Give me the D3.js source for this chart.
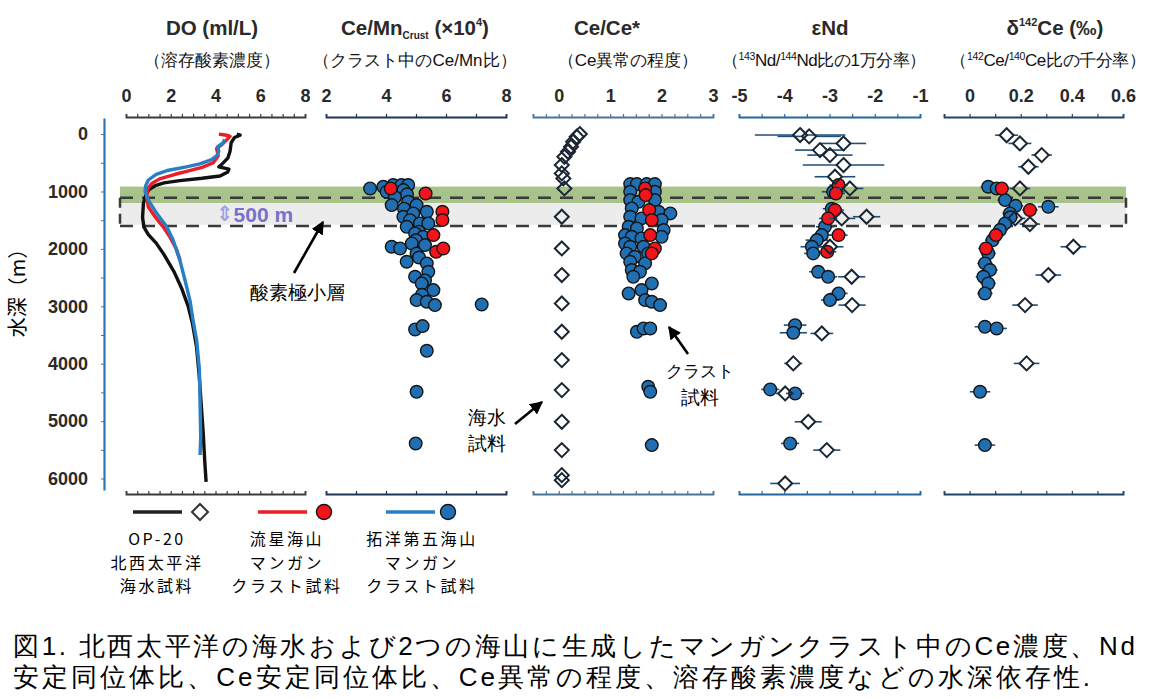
<!DOCTYPE html>
<html>
<head>
<meta charset="utf-8">
<script src="https://cdnjs.cloudflare.com/ajax/libs/d3/7.8.5/d3.min.js"></script>
<style>
body{margin:0;background:#fff}
svg{display:block}
text{font-family:"Liberation Sans",Arial,sans-serif}
.jp{font-family:"Noto Sans CJK JP",sans-serif}
</style>
</head>
<body>
<div id="chart"></div>
<script>
// data: [depth m, value] or [depth m, value, error]

// dissolved oxygen profiles (ml/L)
const doOP20 = [[0,4.95],[20,5.1],[60,4.85],[150,4.7],[300,4.65],[420,4.55],[520,4.3],[570,4.15],[610,4.6],[660,4.55],[730,4.2],[770,3.4],[810,2.4],[850,1.7],[900,1.3],[960,1.05],[1050,0.9],[1200,0.78],[1450,0.74],[1620,0.8],[1750,1.0],[1900,1.35],[2100,1.7],[2400,2.15],[2700,2.5],[3000,2.78],[3300,2.97],[3700,3.15],[4200,3.27],[4700,3.36],[5200,3.45],[5700,3.52],[6057,3.58]]
const doRyusei = [[0,4.15],[20,4.5],[40,4.65],[100,4.5],[180,4.3],[250,4.05],[380,4.12],[500,3.9],[580,3.4],[640,2.8],[700,2.2],[780,1.5],[860,1.15],[950,0.98],[1100,0.92],[1270,1.0],[1440,1.3],[1620,1.67],[1800,1.97],[2000,2.25],[2200,2.42]]
const doTakuyo = [[90,4.4],[150,4.35],[220,4.1],[300,4.15],[380,4.05],[450,3.8],[520,3.3],[570,2.7],[630,1.9],[700,1.35],[800,1.0],[900,0.88],[1000,0.85],[1150,1.0],[1380,1.37],[1615,1.82],[1850,2.11],[2200,2.41],[2550,2.64],[2900,2.86],[3250,3.0],[3600,3.16],[4100,3.28],[4700,3.31],[5270,3.34],[5590,3.31]]

// Ce/Mn in crust (x10^4)
const ceMnTakuyo = [[947,3.47],[918,3.91],[888,4.24],[888,4.52],[888,4.74],[1005,4.02],[976,4.58],[1050,4.7],[1100,4.3],[1237,4.19],[1179,4.74],[1237,5.02],[1300,4.6],[1440,4.58],[1382,4.91],[1353,5.36],[1500,4.8],[1615,4.69],[1556,5.13],[1556,5.41],[1700,5.1],[1730,4.97],[1789,5.24],[1850,5.0],[1963,4.19],[1992,4.47],[1905,4.86],[2080,5.02],[1934,5.3],[2150,5.1],[2224,4.69],[2253,5.36],[2398,5.41],[2486,4.97],[2550,5.3],[2602,5.19],[2718,5.58],[2800,5.2],[2892,5.02],[2921,5.36],[2979,5.63],[2968,7.19],[3403,4.97],[3345,5.22],[3775,5.36],[4489,5.02],[5389,4.99]]
const ceMnRyusei = [[947,4.16],[1034,5.32],[1353,5.88],[1498,5.88],[1760,5.58],[2050,5.67],[1992,5.91]]

// Ce anomaly
const ceAnomSea = [[0,0.41],[47,0.35],[134,0.28],[221,0.24],[308,0.18],[395,0.11],[540,0.06],[685,0.06],[772,0.09],[947,0.11],[1440,0.06],[1992,0.06],[2456,0.06],[2950,0.06],[3444,0.06],[3937,0.06],[4460,0.06],[5012,0.06],[5505,0.06],[5941,0.06],[6028,0.06]]
const ceAnomTakuyo = [[871,1.39],[871,1.52],[871,1.71],[871,1.87],[1005,1.39],[1005,1.87],[1150,1.39],[1179,1.55],[1150,1.87],[1295,1.42],[1353,1.94],[1382,2.17],[1440,1.39],[1469,1.61],[1498,2.0],[1614,1.36],[1643,1.52],[1672,2.04],[1760,1.29],[1789,1.42],[1818,1.61],[1789,2.0],[1905,1.29],[1963,1.39],[1963,1.65],[2079,1.32],[2137,1.48],[2079,1.74],[2224,1.39],[2253,1.68],[2369,1.42],[2398,1.58],[2486,1.45],[2602,1.81],[2776,1.36],[2718,1.61],[2892,1.68],[2921,1.81],[2979,1.97],[3444,1.52],[3386,1.65],[3386,1.78],[4402,1.74],[4489,1.78],[5418,1.81]]
const ceAnomRyusei = [[947,1.68],[1063,1.69],[1324,1.76],[1498,1.81],[1760,1.78],[1992,1.87],[2079,1.81]]

// epsilon Nd
const eNdSea = [[17,-3.65,1.0],[40,-3.45,0.7],[163,-2.69,0.5],[279,-3.21,0.55],[366,-2.99,0.5],[540,-2.69,0.9],[743,-2.88,0.45],[947,-2.55,0.3],[1469,-2.73,0.3],[1440,-2.18,0.3],[1963,-2.99,0.3],[2486,-2.51,0.3],[2979,-2.5,0.3],[3473,-3.17,0.25],[3995,-3.8,0.2],[4518,-3.98,0.2],[5012,-3.47,0.3],[5505,-3.06,0.3],[6086,-3.98,0.33]]
const eNdTakuyo = [[1005,-2.92,0.25],[1300,-2.95,0.2],[1614,-3.1,0.2],[1760,-3.17,0.2],[1847,-3.28,0.25],[1963,-3.39,0.25],[2079,-3.36,0.2],[2398,-3.25,0.2],[2486,-3.03,0.2],[2776,-2.8,0.2],[2892,-2.99,0.2],[3328,-3.76,0.25],[3461,-3.8,0.3],[4448,-4.31,0.2],[4518,-3.76,0.2],[5389,-3.87,0.2]]
const eNdRyusei = [[888,-2.8,0.2],[1034,-2.86,0.2],[1324,-2.88,0.2],[1469,-3.03,0.2],[1760,-2.8,0.2],[2050,-3.05,0.2]]

// delta 142Ce (permil)
const dCeSea = [[20,0.145,0.045],[163,0.197,0.045],[366,0.282,0.04],[569,0.23,0.04],[947,0.197,0.04],[1469,0.178,0.04],[1568,0.236,0.04],[1963,0.406,0.05],[2456,0.308,0.05],[2979,0.217,0.05],[3995,0.223,0.05]]
const dCeTakuyo = [[918,0.073,0.03],[947,0.106,0.03],[1150,0.139,0.03],[1250,0.18,0.03],[1266,0.308,0.04],[1382,0.158,0.03],[1450,0.16,0.03],[1556,0.139,0.03],[1672,0.119,0.03],[1850,0.09,0.03],[2079,0.073,0.03],[2253,0.06,0.03],[2369,0.08,0.03],[2486,0.054,0.03],[2602,0.073,0.03],[2776,0.06,0.03],[3357,0.06,0.04],[3386,0.106,0.04],[4489,0.041,0.04],[5418,0.06,0.04]]
const dCeRyusei = [[947,0.126,0.03],[1324,0.236,0.03],[1760,0.103,0.03],[1992,0.064,0.03]]

// oxygen minimum zone shading (depth m)
const bandGreen = [915, 1205]
const bandGrey = [1205, 1580]
const omzBox = [1110, 1600]
const depthTicks = d3.range(0, 6001, 500)
const depthLabels = [0, 1000, 2000, 3000, 4000, 5000, 6000]

//layout
const width = 1160
const height = 699
const axisTopY = 117
const axisBottomY = 494
const bandLeft = 120, bandRight = 1126
const blue = '#1f6fb2', red = '#f2141b', edge = '#151515'

const y = d3.scaleLinear().domain([-280, 6200]).range([118, 490])

const panels = [
  {domain:[0,8], range:[126,305], minor:d3.range(0,8.01,0.5), major:[0,2,4,6,8], color:'#3a3a3a'},
  {domain:[2,8], range:[326,506], minor:d3.range(2,8.01,1), major:[2,4,6,8], color:'#1d3557'},
  {domain:[-0.5,3], range:[533,713], minor:d3.range(-0.5,3.01,0.25), major:[0,1,2,3], color:'#4a7396'},
  {domain:[-5,-1], range:[739,920], minor:d3.range(-5,-0.99,0.5), major:[-5,-4,-3,-2,-1], color:'#2467a0'},
  {domain:[-0.1,0.6], range:[944,1123], minor:d3.range(-0.1,0.601,0.1), major:[0,0.2,0.4,0.6], color:'#1f4466'}
]
panels.forEach(p => p.x = d3.scaleLinear().domain(p.domain).range(p.range))
const [xDO, xCeMn, xCeAnom, xNd, xDCe] = panels.map(p => p.x)

const svg = d3.select('#chart').append('svg')
  .attr('width', width).attr('height', height)

const defs = svg.append('defs')
defs.append('marker').attr('id','arrow').attr('viewBox','0 0 10 10')
  .attr('refX', 9).attr('refY', 5).attr('markerWidth', 5).attr('markerHeight', 5)
  .attr('markerUnits','strokeWidth').attr('orient','auto')
  .append('path').attr('d','M0,0 L10,5 L0,10 z').attr('fill','#000')

const diamond = (cx, cy, s) => `M${cx},${cy-s} L${cx+s},${cy} L${cx},${cy+s} L${cx-s},${cy} Z`

//bands behind everything
const drawBands = function () {
  svg.append('rect').attr('x', bandLeft).attr('width', bandRight - bandLeft)
    .attr('y', y(bandGreen[0])).attr('height', y(bandGreen[1]) - y(bandGreen[0]))
    .attr('fill', '#a7c38a')
  svg.append('rect').attr('x', bandLeft).attr('width', bandRight - bandLeft)
    .attr('y', y(bandGrey[0])).attr('height', y(bandGrey[1]) - y(bandGrey[0]))
    .attr('fill', '#ececec')

  const box = svg.append('g').attr('stroke', '#3a3a3a').attr('stroke-width', 2.5)
    .attr('stroke-dasharray', '13,9').attr('fill', 'none')
  omzBox.forEach(d => {
    box.append('line').attr('x1', bandLeft).attr('x2', bandRight).attr('y1', y(d)).attr('y2', y(d))
  })
  ;[bandLeft, bandRight].forEach(x => {
    box.append('line').attr('x1', x).attr('x2', x).attr('y1', y(omzBox[0])).attr('y2', y(omzBox[1]))
      .attr('stroke-dasharray', '10,6')
  })

  const lbl = svg.append('text').attr('x', 216).attr('y', 214)
    .attr('dominant-baseline', 'central').attr('font-size', 21).attr('font-weight', 'bold')
  lbl.append('tspan').attr('fill', '#a4a1e0').style('font-family', 'DejaVu Sans').text('⇕')
  lbl.append('tspan').attr('fill', '#7672cc').text('500 m')
}

const drawAxes = function () {
  panels.forEach(p => {
    const fmt = v => p.major.some(m => Math.abs(m - v) < 1e-6) ? String(+v.toFixed(2)) : ''
    const top = svg.append('g').attr('transform', `translate(0,${axisTopY})`)
      .call(d3.axisTop(p.x).tickValues(p.minor).tickSize(3).tickSizeOuter(3).tickPadding(12).tickFormat(fmt))
    const bottom = svg.append('g').attr('transform', `translate(0,${axisBottomY})`)
      .call(d3.axisTop(p.x).tickValues(p.minor).tickSize(3).tickSizeOuter(3).tickFormat(''))
    ;[top, bottom].forEach(g => {
      g.select('.domain').attr('stroke', p.color).attr('stroke-width', 1.8)
      g.selectAll('.tick line').attr('stroke', p.color).attr('stroke-width', 1.2)
    })
    top.selectAll('text').attr('font-size', 18).attr('font-weight', 'bold').attr('fill', '#2a2a2a')
      .style('font-family', '"Liberation Sans",Arial,sans-serif')
  })

  const yAxis = svg.append('g').attr('transform', 'translate(104,0)')
    .call(d3.axisLeft(y).tickValues(depthTicks).tickSize(3).tickSizeOuter(0).tickPadding(13)
      .tickFormat(d => depthLabels.includes(d) ? d : ''))
  yAxis.select('.domain').attr('stroke', '#2e78b8').attr('stroke-width', 2.2)
  yAxis.selectAll('.tick line').attr('stroke', '#2e78b8')
  yAxis.selectAll('text').attr('font-size', 18).attr('font-weight', 'bold').attr('fill', '#2a2a2a')
    .style('font-family', '"Liberation Sans",Arial,sans-serif')

  svg.append('text').attr('class', 'jp').attr('transform', 'translate(16,288) rotate(-90)')
    .attr('text-anchor', 'middle').attr('dominant-baseline', 'central').attr('font-size', 20)
    .text('水深（m）')
}

const drawTitles = function () {
  const t = svg.append('g').attr('font-size', 20.5).attr('font-weight', 'bold').attr('fill', '#2a2a2a')
    .attr('text-anchor', 'middle')
  t.append('text').attr('x', 212).attr('y', 35).text('DO (ml/L)')
  const cm = t.append('text').attr('x', 415).attr('y', 35)
  cm.append('tspan').text('Ce/Mn')
  cm.append('tspan').attr('font-size', 10).attr('dy', 4).text('Crust')
  cm.append('tspan').attr('dy', -4).text(' (×10')
  cm.append('tspan').attr('font-size', 11).attr('dy', -9).text('4')
  cm.append('tspan').attr('dy', 9).text(')')
  t.append('text').attr('x', 607).attr('y', 35).text('Ce/Ce*')
  t.append('text').attr('x', 830).attr('y', 35).text('εNd')
  const dc = t.append('text').attr('x', 1055).attr('y', 35)
  dc.append('tspan').text('δ')
  dc.append('tspan').attr('font-size', 11).attr('dy', -9).text('142')
  dc.append('tspan').attr('dy', 9).text('Ce (‰)')

  const s = svg.append('g').attr('class', 'jp').attr('font-size', 17).attr('fill', '#111')
    .attr('text-anchor', 'middle')
  s.append('text').attr('x', 212).attr('y', 66).text('（溶存酸素濃度）')
  s.append('text').attr('x', 415).attr('y', 66).text('（クラスト中のCe/Mn比）')
  s.append('text').attr('x', 628).attr('y', 66).text('（Ce異常の程度）')
  const nd = s.append('text').attr('x', 824).attr('y', 66).attr('letter-spacing', -0.4)
  nd.append('tspan').text('（')
  nd.append('tspan').attr('font-size', 10.5).attr('dy', -6).text('143')
  nd.append('tspan').attr('dy', 6).text('Nd/')
  nd.append('tspan').attr('font-size', 10.5).attr('dy', -6).text('144')
  nd.append('tspan').attr('dy', 6).text('Nd比の1万分率）')
  const ce = s.append('text').attr('x', 1048).attr('y', 66).attr('letter-spacing', -0.4)
  ce.append('tspan').text('（')
  ce.append('tspan').attr('font-size', 10.5).attr('dy', -6).text('142')
  ce.append('tspan').attr('dy', 6).text('Ce/')
  ce.append('tspan').attr('font-size', 10.5).attr('dy', -6).text('140')
  ce.append('tspan').attr('dy', 6).text('Ce比の千分率）')
}

const drawProfiles = function () {
  const line = d3.line().x(d => xDO(d[1])).y(d => y(d[0]))
  ;[[doOP20, '#111'], [doRyusei, '#ee1c25'], [doTakuyo, '#2a7fc4']].forEach(([data, c]) => {
    svg.append('path').datum(data).attr('d', line).attr('fill', 'none')
      .attr('stroke', c).attr('stroke-width', 3.4).attr('stroke-linejoin', 'round')
  })
}

// error bars: whole line behind circles, split around the open diamonds
const drawErrors = function (data, x, gap) {
  const g = svg.append('g').attr('stroke', '#1f4e79').attr('stroke-width', 1.6)
  data.forEach(d => {
    const cx = x(d[1]), cy = y(d[0])
    const l = x(d[1] - d[2]), r = x(d[1] + d[2])
    if (gap) {
      if (cx - gap > l) g.append('line').attr('x1', l).attr('x2', cx - gap).attr('y1', cy).attr('y2', cy)
      if (r > cx + gap) g.append('line').attr('x1', cx + gap).attr('x2', r).attr('y1', cy).attr('y2', cy)
    } else {
      g.append('line').attr('x1', l).attr('x2', r).attr('y1', cy).attr('y2', cy)
    }
  })
}

const drawDiamonds = function (data, x) {
  svg.append('g').selectAll('path').data(data).enter().append('path')
    .attr('d', d => diamond(x(d[1]), y(d[0]), 7))
    .attr('fill', 'none').attr('stroke', '#1a2633').attr('stroke-width', 2)
}

const drawCircles = function (data, x, fill) {
  svg.append('g').selectAll('circle').data(data).enter().append('circle')
    .attr('cx', d => x(d[1])).attr('cy', d => y(d[0])).attr('r', 6.3)
    .attr('fill', fill).attr('stroke', edge).attr('stroke-width', 1.4)
}

const drawMarkers = function () {
  drawCircles(ceMnTakuyo, xCeMn, blue)
  drawCircles(ceMnRyusei, xCeMn, red)

  drawDiamonds(ceAnomSea, xCeAnom)
  drawCircles(ceAnomTakuyo, xCeAnom, blue)
  drawCircles(ceAnomRyusei, xCeAnom, red)

  drawErrors(eNdTakuyo, xNd, 0)
  drawErrors(eNdRyusei, xNd, 0)
  drawCircles(eNdTakuyo, xNd, blue)
  drawCircles(eNdRyusei, xNd, red)
  drawErrors(eNdSea, xNd, 7)
  drawDiamonds(eNdSea, xNd)

  drawErrors(dCeTakuyo, xDCe, 0)
  drawErrors(dCeRyusei, xDCe, 0)
  drawCircles(dCeTakuyo, xDCe, blue)
  drawCircles(dCeRyusei, xDCe, red)
  drawErrors(dCeSea, xDCe, 7)
  drawDiamonds(dCeSea, xDCe)
}

const drawNotes = function () {
  const arrow = (x1, y1, x2, y2) => svg.append('line')
    .attr('x1', x1).attr('y1', y1).attr('x2', x2).attr('y2', y2)
    .attr('stroke', '#000').attr('stroke-width', 2.6).attr('marker-end', 'url(#arrow)')
  arrow(294, 273, 323, 222)
  arrow(515, 424, 542, 402)
  arrow(688, 354, 669, 327)

  const n = svg.append('g').attr('class', 'jp').attr('font-size', 19).attr('text-anchor', 'middle')
  n.append('text').attr('x', 297).attr('y', 299).text('酸素極小層')
  n.append('text').attr('x', 487).attr('y', 424).text('海水')
  n.append('text').attr('x', 487).attr('y', 450).text('試料')
  n.append('text').attr('x', 700).attr('y', 377).attr('font-size', 17).text('クラスト')
  n.append('text').attr('x', 700).attr('y', 404).text('試料')
}

const drawLegend = function () {
  const ly = 512
  const items = [
    {x1:133, x2:182, m:200, color:'#222', type:'diamond', cx:157, lines:['OP-20','北西太平洋','海水試料']},
    {x1:258, x2:307, m:324, color:'#ee1c25', fill:red, type:'circle', cx:287, lines:['流星海山','マンガン','クラスト試料']},
    {x1:386, x2:435, m:448, color:'#2a7fc4', fill:blue, type:'circle', cx:422, lines:['拓洋第五海山','マンガン','クラスト試料']}
  ]
  const legend = svg.append('g').attr('id', 'legend')
  items.forEach(it => {
    legend.append('line').attr('x1', it.x1).attr('x2', it.x2).attr('y1', ly).attr('y2', ly)
      .attr('stroke', it.color).attr('stroke-width', 3.6)
    if (it.type === 'diamond') {
      legend.append('path').attr('d', diamond(it.m, ly, 8)).attr('fill', 'none')
        .attr('stroke', '#333').attr('stroke-width', 2)
    } else {
      legend.append('circle').attr('cx', it.m).attr('cy', ly).attr('r', 7.5)
        .attr('fill', it.fill).attr('stroke', edge).attr('stroke-width', 1.4)
    }
    it.lines.forEach((t, i) => {
      legend.append('text').attr('class', 'jp').attr('x', it.cx).attr('y', 545 + i * 23.5)
        .attr('text-anchor', 'middle').attr('font-size', 16).attr('letter-spacing', 2.6).text(t)
    })
  })
}

const drawCaption = function () {
  const c = svg.append('g').attr('class', 'jp').attr('font-size', 26).attr('fill', '#000')
  c.append('text').attr('x', 13).attr('y', 655).attr('textLength', 1122).attr('lengthAdjust', 'spacing')
    .text('図1. 北西太平洋の海水および2つの海山に生成したマンガンクラスト中のCe濃度、Nd')
  c.append('text').attr('x', 13).attr('y', 686).attr('textLength', 1077).attr('lengthAdjust', 'spacing')
    .text('安定同位体比、Ce安定同位体比、Ce異常の程度、溶存酸素濃度などの水深依存性.')
}

drawBands()
drawProfiles()
drawAxes()
drawTitles()
drawMarkers()
drawNotes()
drawLegend()
drawCaption()
</script>
</body>
</html>
